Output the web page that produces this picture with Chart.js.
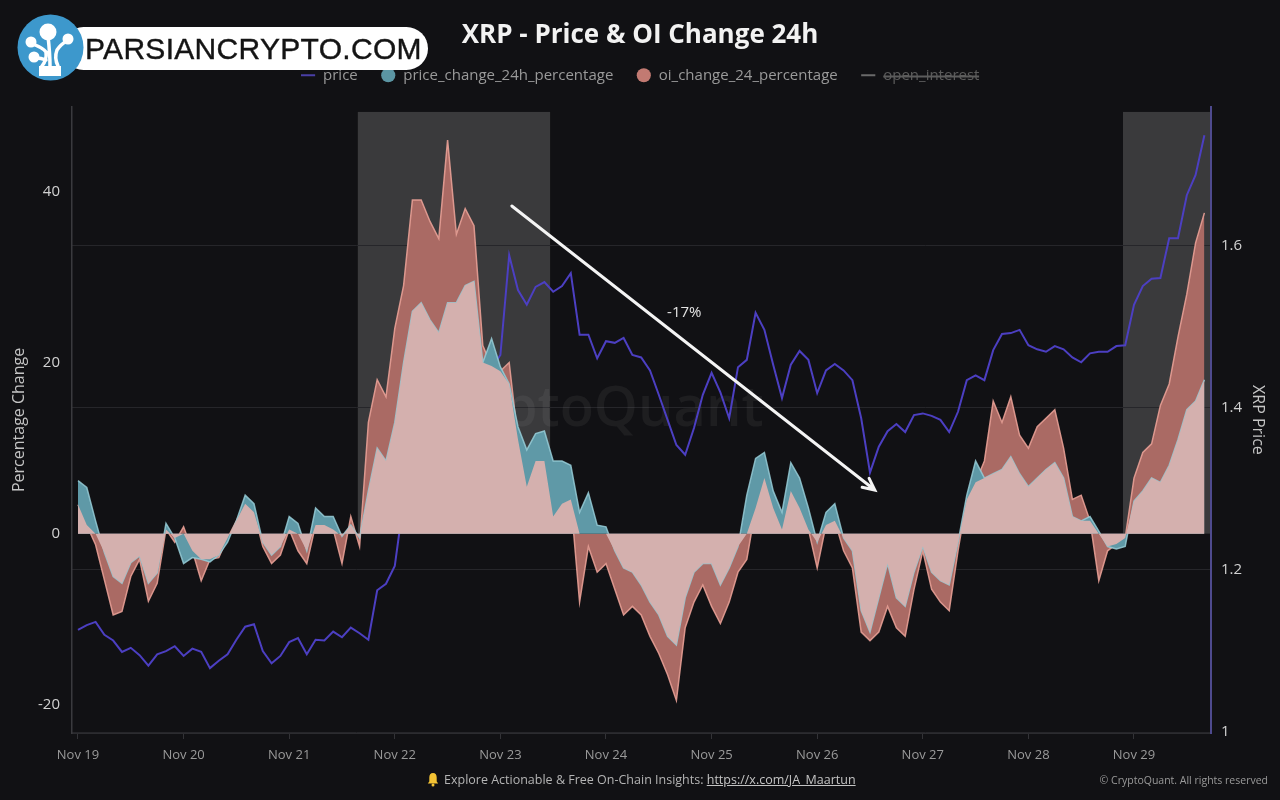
<!DOCTYPE html>
<html>
<head>
<meta charset="utf-8">
<title>XRP - Price & OI Change 24h</title>
<script src="https://cdn.jsdelivr.net/npm/chart.js@4.4.1/dist/chart.umd.min.js"></script>
<style>
  html, body { margin: 0; padding: 0; background: #111114; }
  #wrap { position: relative; width: 1280px; height: 800px; overflow: hidden; background: #111114; }
  canvas { display: block; }
  .pill {
    position: absolute; left: 62px; top: 27px; width: 366px; height: 43px;
    background: #fff; border-radius: 22px; box-sizing: border-box; padding-left: 23px;
    font: 30px "Liberation Sans", Arial, sans-serif; color: #141414; line-height: 44px;
    letter-spacing: 0.3px; -webkit-text-stroke: 0.4px #141414;
    white-space: nowrap;
  }
  .badge { position: absolute; left: 17px; top: 14px; width: 67px; height: 67px; }
  .footer {
    position: absolute; left: 427px; top: 770px; height: 18px;
    font: 12.5px "Open Sans", sans-serif; color: #b4b4b4; white-space: nowrap;
    display: flex; align-items: center;
  }
  .footer svg { margin-right: 5px; }
  .footer u { color: #c4c4c4; }
  .copy {
    position: absolute; right: 12px; top: 773px;
    font: 10.5px "Open Sans", sans-serif; color: #9a9a9a; white-space: nowrap;
  }
</style>
</head>
<body>
<div id="wrap">
  <canvas id="chart" width="1280" height="800"></canvas>

  <div class="pill">PARSIANCRYPTO.COM</div>
  <svg class="badge" viewBox="0 0 67 67">
    <circle cx="33.5" cy="33.5" r="33" fill="#3d98cc"/>
    <g fill="#fff" stroke="#fff">
      <path d="M25 60 L25 52 Q30 46 29 38 Q26 34 16 30 M33 52 Q33 40 31 22 M41 52 Q37 44 40 36 Q44 30 50 27 M29 46 Q24 44 19 44"
            fill="none" stroke-width="3.5" stroke-linecap="round"/>
      <rect x="22" y="52" width="22" height="10" stroke="none"/>
      <circle cx="31" cy="18" r="8.5" stroke="none"/>
      <circle cx="14" cy="28" r="5.5" stroke="none"/>
      <circle cx="17" cy="43" r="5.5" stroke="none"/>
      <circle cx="51" cy="25" r="5.5" stroke="none"/>
    </g>
  </svg>

  <div class="footer">
    <svg width="12" height="15" viewBox="0 0 12 15">
      <path d="M6 1 C3.4 1 2.3 3 2.3 5.6 V9.4 L0.8 11.6 H11.2 L9.7 9.4 V5.6 C9.7 3 8.6 1 6 1 Z" fill="#f3c234"/>
      <circle cx="6" cy="13" r="1.5" fill="#f3c234"/>
    </svg>
    <span>Explore Actionable &amp; Free On-Chain Insights: <u>https://x.com/JA_Maartun</u></span>
  </div>
  <div class="copy">© CryptoQuant. All rights reserved</div>
</div>

<script>
// ---- data (2-hour samples starting Nov 19 00:00) ----
const startHour = 0;
const stepHours = 2;

const dayLabels = ['Nov 19', 'Nov 20', 'Nov 21', 'Nov 22', 'Nov 23', 'Nov 24',
                   'Nov 25', 'Nov 26', 'Nov 27', 'Nov 28', 'Nov 29'];
const dayTicks = dayLabels.map((_, i) => i * 24);
const pctTicks = [-20, 0, 20, 40];
const priceTicks = [1, 1.2, 1.4, 1.6];

const price = [
  1.126, 1.132, 1.136, 1.120, 1.113, 1.099, 1.104, 1.095, 1.082, 1.096, 1.100, 1.106,
  1.094, 1.103, 1.099, 1.079, 1.088, 1.096, 1.114, 1.130, 1.133, 1.100, 1.085, 1.094,
  1.111, 1.116, 1.096, 1.114, 1.113, 1.124, 1.117, 1.129, 1.122, 1.114, 1.175, 1.183,
  1.205, 1.285, 1.373, 1.400, 1.407, 1.403, 1.416, 1.422, 1.428, 1.434, 1.440, 1.449,
  1.465, 1.588, 1.545, 1.527, 1.549, 1.555, 1.543, 1.550, 1.566, 1.490, 1.490, 1.461,
  1.482, 1.480, 1.486, 1.465, 1.462, 1.446, 1.416, 1.385, 1.354, 1.342, 1.375, 1.416,
  1.443, 1.419, 1.387, 1.450, 1.459, 1.517, 1.496, 1.453, 1.412, 1.453, 1.470, 1.459,
  1.418, 1.446, 1.454, 1.446, 1.434, 1.387, 1.320, 1.352, 1.371, 1.380, 1.370, 1.391,
  1.393, 1.390, 1.385, 1.370, 1.395, 1.434, 1.440, 1.434, 1.471, 1.491, 1.492, 1.496,
  1.477, 1.472, 1.469, 1.476, 1.472, 1.462, 1.456, 1.467, 1.469, 1.469, 1.476, 1.477,
  1.527, 1.550, 1.559, 1.560, 1.609, 1.609, 1.662, 1.687, 1.736
];

const priceChange = [
  6.2, 5.4, 1.5, -2.2, -5.0, -5.8, -3.4, -2.6, -5.8, -4.6, 1.2, -0.5,
  -3.5, -2.8, -3.0, -3.3, -2.5, -1.0, 1.5, 4.5, 3.5, -1.0, -2.5, -1.5,
  2.0, 1.2, -2.0, 3.0, 2.0, 2.0, -0.3, 1.0, -0.5, 5.0, 10.0, 8.5,
  13.0, 20.0, 26.0, 27.0, 25.0, 23.5, 27.0, 27.0, 29.0, 29.5, 20.0, 22.8,
  19.5, 17.5, 12.5, 9.8, 11.7, 12.0, 8.5, 8.5, 8.0, 2.5, 4.8, 1.0,
  0.8, -2.0, -4.0, -4.5, -6.0, -8.0, -9.5, -12.0, -13.0, -7.5, -4.5, -3.5,
  -3.5, -6.0, -4.0, -1.5, 4.5, 8.8, 9.5, 5.0, 2.5, 8.3, 6.5, 3.0,
  -1.0, 2.5, 3.5, -0.5, -2.0, -9.0, -11.5, -7.5, -3.5, -7.5, -8.5, -4.5,
  -1.5, -4.5, -5.5, -6.0, -1.0, 4.5, 8.5, 6.5, 7.0, 7.5, 9.0, 7.0,
  5.5, 6.5, 7.5, 8.3, 6.5, 2.0, 1.5, 2.0, 0.3, -1.5, -1.8, -1.5,
  3.8, 5.0, 6.5, 6.0, 8.0, 11.0, 14.5, 15.5, 18.0
];

const oiChange = [
  3.4, 1.0, -1.3, -5.4, -9.5, -9.1, -5.0, -3.0, -7.9, -5.8, 0.5, -1.0,
  0.8, -2.0, -5.5, -3.0, -2.8, -0.5, 1.5, 3.5, 2.5, -1.5, -3.5, -2.5,
  0.5, -2.0, -3.5, 1.0, 1.0, 0.5, -3.5, 2.0, -1.5, 13.0, 18.0, 16.0,
  24.0, 29.0, 39.0, 39.0, 36.5, 34.5, 46.0, 35.0, 38.0, 36.0, 22.0, 19.6,
  19.0, 20.0, 11.0, 5.5, 8.5, 8.5, 2.0, 3.5, 4.0, -8.0, -1.5, -4.5,
  -3.5, -6.5, -9.5, -8.5, -9.5, -12.0, -14.0, -16.5, -19.5, -11.0, -8.0, -6.0,
  -8.5, -10.5, -8.0, -4.5, -3.0, 3.0, 6.5, 3.0, 0.5, 5.0, 3.0, 0.5,
  -4.0, 1.0, 1.5, -2.0, -4.0, -11.5, -12.5, -11.5, -8.5, -11.0, -12.0, -6.5,
  -2.0, -6.5, -8.0, -9.0, -2.0, 4.0, 6.0, 8.5, 15.5, 13.0, 16.0, 11.5,
  10.0, 12.5, 13.5, 14.5, 10.0, 4.0, 4.5, 1.5, -5.5, -2.0, -1.2, -0.5,
  6.5, 9.5, 10.5, 15.0, 17.5, 23.0, 28.0, 34.0, 37.5
];

// annotations drawn by the analyst on top of the chart (hours / axis units)
const highlightRanges = [[63.6, 107.3], [237.5, 257.5]];
const highlightTop = 49.3;
const trendArrow = { from: { x: 98.6, y: 38.3 }, to: { x: 181.1, y: 5.1 }, label: '-17%', labelAt: { x: 137.8, y: 25.8 } };
const watermarkAt = { x: 116, y: 14.5 };

// ---- build library data ----
const hours = price.map((_, i) => startHour + i * stepHours);
const toPoints = arr => arr.map((v, i) => ({ x: hours[i], y: v }));
// region where both changes share a sign (painted light pink in the original)
const overlap = priceChange.map((p, i) => {
  const o = oiChange[i];
  if (p * o <= 0) return 0;
  return Math.sign(p) * Math.min(Math.abs(p), Math.abs(o));
});

const FONT = '"Open Sans", "Noto Sans", sans-serif';
const LEGEND_HEIGHT = 62;

const legendSpacing = {
  id: 'legendSpacing',
  beforeInit(chart) {
    const fit = chart.legend.fit;
    chart.legend.fit = function () {
      fit.call(this);
      this.height = LEGEND_HEIGHT;
    };
  }
};

const annotations = {
  id: 'annotations',
  beforeDraw(chart) {
    const { ctx, chartArea, scales: { x, y } } = chart;
    ctx.save();
    ctx.fillStyle = '#3a3a3c';
    highlightRanges.forEach(([from, to]) => {
      const left = x.getPixelForValue(from);
      const right = Math.min(x.getPixelForValue(to), chartArea.right);
      const top = y.getPixelForValue(highlightTop);
      const bottom = y.getPixelForValue(0);
      ctx.fillRect(left, top, right - left, bottom - top);
    });
    ctx.restore();
  },
  beforeDatasetsDraw(chart) {
    const { ctx, scales: { x, y } } = chart;
    ctx.save();
    ctx.font = '600 56px ' + FONT;
    ctx.fillStyle = 'rgba(255,255,255,0.055)';
    ctx.textAlign = 'center';
    ctx.textBaseline = 'middle';
    ctx.fillText('CryptoQuant', x.getPixelForValue(watermarkAt.x), y.getPixelForValue(watermarkAt.y));
    ctx.restore();
  },
  afterDatasetsDraw(chart) {
    const { ctx, scales: { x, y } } = chart;
    const x1 = x.getPixelForValue(trendArrow.from.x), y1 = y.getPixelForValue(trendArrow.from.y);
    const x2 = x.getPixelForValue(trendArrow.to.x), y2 = y.getPixelForValue(trendArrow.to.y);
    const ang = Math.atan2(y2 - y1, x2 - x1);
    ctx.save();
    ctx.strokeStyle = '#f4f4f4';
    ctx.lineWidth = 3;
    ctx.lineCap = 'round';
    ctx.beginPath();
    ctx.moveTo(x1, y1);
    ctx.lineTo(x2, y2);
    ctx.moveTo(x2 - 13 * Math.cos(ang - 0.45), y2 - 13 * Math.sin(ang - 0.45));
    ctx.lineTo(x2, y2);
    ctx.lineTo(x2 - 13 * Math.cos(ang + 0.45), y2 - 13 * Math.sin(ang + 0.45));
    ctx.stroke();
    ctx.font = '15px ' + FONT;
    ctx.fillStyle = '#e4e4e4';
    ctx.textAlign = 'center';
    ctx.textBaseline = 'middle';
    ctx.fillText(trendArrow.label, x.getPixelForValue(trendArrow.labelAt.x), y.getPixelForValue(trendArrow.labelAt.y));
    ctx.restore();
  }
};

new Chart(document.getElementById('chart'), {
  type: 'line',
  data: {
    datasets: [
      {
        label: 'price',
        data: toPoints(price),
        yAxisID: 'y1',
        borderColor: '#4c3fc2',
        borderWidth: 2,
        pointRadius: 0,
        fill: false,
        order: 4,
        legendColor: '#4a3fa6',
        legendStyle: 'line'
      },
      {
        label: 'price_change_24h_percentage',
        data: toPoints(priceChange),
        yAxisID: 'y',
        borderColor: 'rgba(150,205,215,0.85)',
        backgroundColor: 'rgb(95,153,167)',
        borderWidth: 1.5,
        pointRadius: 0,
        fill: 'origin',
        order: 2,
        legendColor: '#5b95a3',
        legendStyle: 'circle'
      },
      {
        label: 'oi_change_24_percentage',
        data: toPoints(oiChange),
        yAxisID: 'y',
        borderColor: 'rgba(232,160,150,0.9)',
        backgroundColor: 'rgb(170,106,100)',
        borderWidth: 1.5,
        pointRadius: 0,
        fill: 'origin',
        order: 3,
        legendColor: '#c27a72',
        legendStyle: 'circle'
      },
      {
        label: 'open_interest',
        data: [],
        yAxisID: 'y',
        hidden: true,
        borderColor: '#777',
        order: 5,
        legendColor: '#6a6a6a',
        legendStyle: 'line'
      },
      {
        label: 'overlap',
        data: toPoints(overlap),
        yAxisID: 'y',
        backgroundColor: 'rgb(212,176,174)',
        borderWidth: 0,
        pointRadius: 0,
        fill: 'origin',
        order: 1,
        showInLegend: false
      }
    ]
  },
  options: {
    responsive: false,
    animation: false,
    events: [],
    layout: { padding: 0 },
    plugins: {
      title: {
        display: true,
        text: 'XRP - Price & OI Change 24h',
        color: '#f2f2f2',
        font: { family: FONT, size: 26, weight: 'bold' },
        padding: { top: 20, bottom: -6.4 }
      },
      legend: {
        labels: {
          font: { family: FONT, size: 15 },
          usePointStyle: true,
          boxHeight: 10,
          padding: 23,
          filter: (item, data) => data.datasets[item.datasetIndex].showInLegend !== false,
          sort: (a, b) => a.datasetIndex - b.datasetIndex,
          generateLabels(chart) {
            const items = Chart.defaults.plugins.legend.labels.generateLabels(chart);
            return items.map(item => {
              const ds = chart.data.datasets[item.datasetIndex];
              return Object.assign(item, {
                fillStyle: ds.legendColor,
                strokeStyle: ds.legendColor,
                pointStyle: ds.legendStyle,
                lineWidth: ds.legendStyle === 'line' ? 2 : 0,
                fontColor: item.hidden ? '#5c5c5c' : '#9a9a9a'
              });
            });
          }
        }
      },
      tooltip: { enabled: false }
    },
    scales: {
      x: {
        type: 'linear',
        min: -1.36,
        max: 257.5,
        afterBuildTicks: s => { s.ticks = dayTicks.map(v => ({ value: v })); },
        afterFit: s => { s.height = 67; },
        grid: { drawOnChartArea: false, drawTicks: true, tickLength: 6, color: '#333337' },
        border: { color: '#2c2c30' },
        ticks: {
          color: '#9a9a9a',
          font: { family: FONT, size: 13 },
          padding: 8,
          maxRotation: 0,
          autoSkip: false,
          callback: (v, i) => dayLabels[i]
        }
      },
      y: {
        position: 'left',
        min: -23.3,
        max: 49.9,
        afterBuildTicks: s => { s.ticks = pctTicks.map(v => ({ value: v })); },
        afterFit: s => { s.width = 72; },
        grid: { drawOnChartArea: false, drawTicks: false },
        border: { color: '#3a3a3e', width: 1.5 },
        ticks: { color: '#d2d2d2', font: { family: FONT, size: 15 }, padding: 12 },
        title: {
          display: true,
          text: 'Percentage Change',
          color: '#c4c4c4',
          font: { family: FONT, size: 16 },
          padding: { top: 10, bottom: 0 }
        }
      },
      y1: {
        position: 'right',
        min: 0.999,
        max: 1.771,
        afterBuildTicks: s => { s.ticks = priceTicks.map(v => ({ value: v })); },
        afterFit: s => { s.width = 69; },
        grid: { color: '#26262a', drawTicks: false },
        border: { color: '#4e4a8e', width: 2 },
        ticks: {
          color: '#d2d2d2',
          font: { family: FONT, size: 15 },
          padding: 10,
          callback: v => String(+v.toFixed(1))
        },
        title: {
          display: true,
          text: 'XRP Price',
          color: '#c4c4c4',
          font: { family: FONT, size: 16 },
          padding: { top: 13, bottom: 0 }
        }
      }
    }
  },
  plugins: [legendSpacing, annotations]
});
</script>
</body>
</html>
